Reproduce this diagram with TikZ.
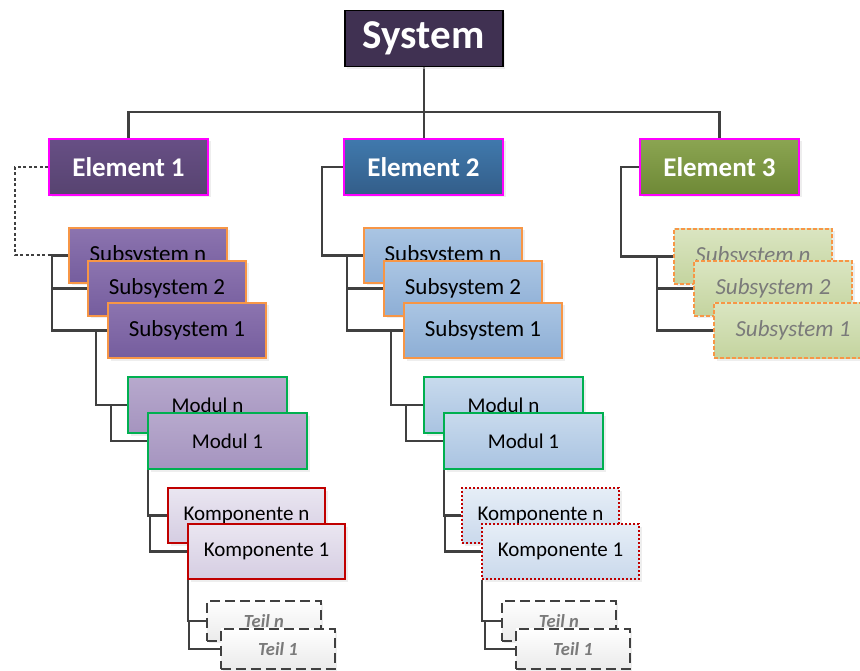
\documentclass[tikz,border=0pt]{standalone}
\usepackage{fontspec}
\setmainfont{Carlito}
\usetikzlibrary{shadows,backgrounds}

\definecolor{sysfill}{HTML}{403152}
\definecolor{eatop}{HTML}{674F85}\definecolor{eabot}{HTML}{574370}
\definecolor{ebtop}{HTML}{4079AD}\definecolor{ebbot}{HTML}{335D89}
\definecolor{ectop}{HTML}{8BA552}\definecolor{ecbot}{HTML}{6E8936}
\definecolor{satop}{HTML}{8C74AF}\definecolor{sabot}{HTML}{755D9E}
\definecolor{sbtop}{HTML}{AAC5E3}\definecolor{sbbot}{HTML}{8DAED5}
\definecolor{sctop}{HTML}{DAE5C1}\definecolor{scbot}{HTML}{C4D49F}
\definecolor{matop}{HTML}{B7A9CD}\definecolor{mabot}{HTML}{A594BF}
\definecolor{mbtop}{HTML}{C8DAED}\definecolor{mbbot}{HTML}{A9C3E1}
\definecolor{katop}{HTML}{EAE6F1}\definecolor{kabot}{HTML}{D5CDE2}
\definecolor{kbtop}{HTML}{E6EEF7}\definecolor{kbbot}{HTML}{CAD9EC}
\definecolor{ttop}{HTML}{FFFFFF}\definecolor{tbot}{HTML}{EBEBEB}
\definecolor{orangeline}{HTML}{F79646}
\definecolor{greenline}{HTML}{00B050}
\definecolor{redline}{HTML}{C00000}
\definecolor{pinkline}{HTML}{FF00FF}
\definecolor{linegray}{HTML}{404040}
\definecolor{labelgray}{HTML}{7A7A7A}

\tikzset{
  box/.style={rectangle, anchor=north west, inner sep=0pt, line width=1.5pt,
    drop shadow={shadow xshift=2.5pt, shadow yshift=-2.5pt, fill=black!13}},
  sysbox/.style={box, draw=black, fill=sysfill, text=white,
    minimum width=158pt, minimum height=56pt,
    font=\fontsize{41}{44}\selectfont\bfseries},
  elembox/.style={box, draw=pinkline, line width=2pt, text=white,
    minimum width=159pt, minimum height=56pt,
    font=\fontsize{27}{30}\selectfont\bfseries},
  subbox/.style={box, draw=orangeline, line width=2pt,
    minimum width=158pt, minimum height=55pt,
    font=\fontsize{23}{26}\selectfont},
  modbox/.style={box, draw=greenline, line width=2pt,
    minimum width=159pt, minimum height=56pt,
    font=\fontsize{21}{24}\selectfont},
  compbox/.style={box, draw=redline, line width=2pt,
    minimum width=157pt, minimum height=55pt,
    font=\fontsize{21}{24}\selectfont},
  partbox/.style={box, draw=linegray, line width=1.8pt,
    dash pattern=on 10pt off 5pt, top color=ttop, bottom color=tbot,
    text=labelgray, minimum width=114pt, minimum height=40pt,
    font=\fontsize{18.5}{20}\selectfont\bfseries\itshape},
  conn/.style={draw=linegray, line width=2.3pt},
  dashlink/.style={conn, line width=2pt, dash pattern=on 3pt off 2.5pt},
}

\begin{document}
\begin{tikzpicture}[x=1pt,y=-1pt]
\useasboundingbox (0,0) rectangle (860,671);
\clip (0,0) rectangle (860,671);

% top level
\node[sysbox] (sys) at (344,10) {System};
\node[elembox, top color=eatop, bottom color=eabot] (e1) at (48,138) {Element 1};
\node[elembox, top color=ebtop, bottom color=ebbot] (e2) at (343,138) {Element 2};
\node[elembox, top color=ectop, bottom color=ecbot] (e3) at (639,138) {Element 3};

% branch of element 1
\node[subbox, top color=satop, bottom color=sabot] (s1n) at (68,227) {Subsystem n};
\node[subbox, top color=satop, bottom color=sabot] (s12) at (87,260) {Subsystem 2};
\node[subbox, top color=satop, bottom color=sabot] (s11) at (107,302) {Subsystem 1};
\node[modbox, top color=matop, bottom color=mabot] (m1n) at (127,376) {Modul n};
\node[modbox, top color=matop, bottom color=mabot] (m11) at (147,412) {Modul 1};
\node[compbox, top color=katop, bottom color=kabot] (k1n) at (167,487) {Komponente n};
\node[compbox, top color=katop, bottom color=kabot] (k11) at (187,523) {Komponente 1};
\node[partbox] (t1n) at (206,600) {Teil n};
\node[partbox] (t11) at (220,628) {Teil 1};

% branch of element 2
\node[subbox, top color=sbtop, bottom color=sbbot] (s2n) at (363,227) {Subsystem n};
\node[subbox, top color=sbtop, bottom color=sbbot] (s22) at (383,260) {Subsystem 2};
\node[subbox, top color=sbtop, bottom color=sbbot] (s21) at (403,302) {Subsystem 1};
\node[modbox, top color=mbtop, bottom color=mbbot] (m2n) at (423,376) {Modul n};
\node[modbox, top color=mbtop, bottom color=mbbot] (m21) at (443,412) {Modul 1};
\node[compbox, draw=redline, dash pattern=on 2pt off 2pt, top color=kbtop, bottom color=kbbot] (k2n) at (461,487) {Komponente n};
\node[compbox, draw=redline, dash pattern=on 2pt off 2pt, top color=kbtop, bottom color=kbbot] (k21) at (481,523) {Komponente 1};
\node[partbox] (t2n) at (501,600) {Teil n};
\node[partbox] (t21) at (515,628) {Teil 1};

% branch of element 3
\node[subbox, dash pattern=on 4pt off 2pt, top color=sctop, bottom color=scbot, text=labelgray, font=\fontsize{23}{26}\selectfont\itshape] (s3n) at (673,228) {Subsystem n};
\node[subbox, dash pattern=on 4pt off 2pt, top color=sctop, bottom color=scbot, text=labelgray, font=\fontsize{23}{26}\selectfont\itshape] (s32) at (693,260) {Subsystem 2};
\node[subbox, dash pattern=on 4pt off 2pt, top color=sctop, bottom color=scbot, text=labelgray, font=\fontsize{23}{26}\selectfont\itshape] (s31) at (713,302) {Subsystem 1};

% columns of the elbow connectors
\coordinate (b1s) at (52,0);
\coordinate (d1m) at (96,0);
\coordinate (b1m) at (111,0);
\coordinate (b1k) at (150,0);
\coordinate (b1t) at (189,0);
\coordinate (b2s) at (347,0);
\coordinate (d2m) at (391,0);
\coordinate (b2m) at (406,0);
\coordinate (b2k) at (445,0);
\coordinate (b2t) at (485,0);
\coordinate (b3s) at (657,0);

\begin{scope}[on background layer]
  % system to elements
  \draw[conn] (sys.south) -- (sys.south |- e2.north);
  \draw[conn] (e1.north) -- ++(0,-26) -| (e3.north);

  % element 1
  \draw[dashlink] (e1.west) -- ++(-33,0) |- (s1n.west -| b1s);
  \draw[conn] (s1n.west) -| (b1s |- s11.west) -- (s11.west);
  \draw[conn] (s12.west) -- (s12.west -| b1s);
  \draw[conn] (s11.west -| d1m) |- (m1n.west);
  \draw[conn] (m1n.west) -| (b1m |- m11.west) -- (m11.west);
  \draw[conn] ([xshift=1pt]m11.south west) |- (k1n.west);
  \draw[conn] (k1n.west) -| (b1k |- k11.west) -- (k11.west);
  \draw[conn] ([xshift=1pt]k11.south west) |- (t1n.west);
  \draw[conn] (t1n.west) -| (b1t |- t11.west) -- (t11.west);

  % element 2
  \draw[conn] (e2.west) -- ++(-21,0) |- (s2n.west);
  \draw[conn] (s2n.west) -| (b2s |- s21.west) -- (s21.west);
  \draw[conn] (s22.west) -- (s22.west -| b2s);
  \draw[conn] (s21.west -| d2m) |- (m2n.west);
  \draw[conn] (m2n.west) -| (b2m |- m21.west) -- (m21.west);
  \draw[conn] ([xshift=1pt]m21.south west) |- (k2n.west);
  \draw[conn] (k2n.west) -| (b2k |- k21.west) -- (k21.west);
  \draw[conn] ([xshift=1pt]k21.south west) |- (t2n.west);
  \draw[conn] (t2n.west) -| (b2t |- t21.west) -- (t21.west);

  % element 3
  \draw[conn] (e3.west) -- ++(-18,0) |- (s3n.west);
  \draw[conn] (s3n.west) -| (b3s |- s31.west) -- (s31.west);
  \draw[conn] (s32.west) -- (s32.west -| b3s);
\end{scope}
\end{tikzpicture}
\end{document}
